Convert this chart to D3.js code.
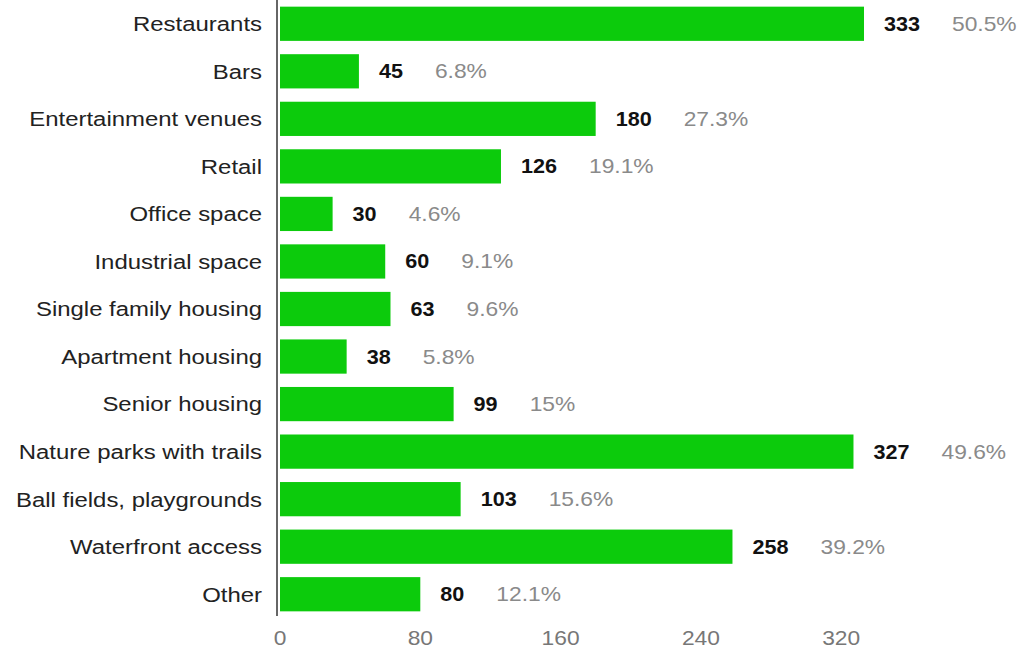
<!DOCTYPE html>
<html><head><meta charset="utf-8">
<script src="https://cdn.jsdelivr.net/npm/d3@7"></script>
<style>body{margin:0;background:#fff;} text{font-family:"Liberation Sans",Arial,sans-serif;}</style>
</head><body>
<svg id="c" width="1032" height="652"></svg>
<script>
const categories = ["Restaurants","Bars","Entertainment venues","Retail","Office space","Industrial space","Single family housing","Apartment housing","Senior housing","Nature parks with trails","Ball fields, playgrounds","Waterfront access","Other"];
const values = [333,45,180,126,30,60,63,38,99,327,103,258,80];
const percents = ["50.5%","6.8%","27.3%","19.1%","4.6%","9.1%","9.6%","5.8%","15%","49.6%","15.6%","39.2%","12.1%"];
const xTicks = [0,80,160,240,320];

const svg = d3.select("#c");
const x = d3.scaleLinear().domain([0,333]).range([280,864]);
const y = d3.scaleBand().domain(categories).range([0,618]).paddingInner(0.28).paddingOuter(0.14);
const cy = d => y(d) + y.bandwidth()/2;
const tr = (tx,ty,sx) => `translate(${tx},${ty}) scale(${sx},1)`;

svg.selectAll("rect.bar").data(categories).join("rect")
  .attr("class","bar")
  .attr("x", x(0))
  .attr("y", d=>y(d))
  .attr("width", (d,i)=>x(values[i])-x(0))
  .attr("height", y.bandwidth())
  .attr("fill","#0ccb0c");

svg.append("line").attr("x1",277).attr("x2",277).attr("y1",0).attr("y2",616)
  .attr("stroke","#666").attr("stroke-width",2);

svg.selectAll("text.cat").data(categories).join("text")
  .attr("class","cat")
  .attr("transform",d=>tr(262, cy(d), 1.14))
  .attr("dy","0.35em").attr("text-anchor","end")
  .attr("font-size",21).attr("fill","#222").text(d=>d);

const VSX = 1.08;
const vals = svg.selectAll("text.val").data(values).join("text")
  .attr("class","val")
  .attr("transform",(d,i)=>tr(x(d)+20, cy(categories[i]), VSX))
  .attr("dy","0.35em").attr("font-size",20).attr("font-weight","bold").attr("fill","#111")
  .text(d=>d);
vals.each(function(d,i){
  const w = this.getComputedTextLength()*VSX;
  svg.append("text").attr("class","pct")
    .attr("transform", tr(x(d)+20+w+32, cy(categories[i]), 1.14))
    .attr("dy","0.35em").attr("font-size",20).attr("fill","#8a8a8a")
    .text(percents[i]);
});

svg.selectAll("text.tick").data(xTicks).join("text")
  .attr("class","tick")
  .attr("transform",d=>tr(x(d),638,1.14)).attr("dy","0.35em").attr("text-anchor","middle")
  .attr("font-size",20).attr("fill","#777").text(d=>d);
</script>
</body></html>
